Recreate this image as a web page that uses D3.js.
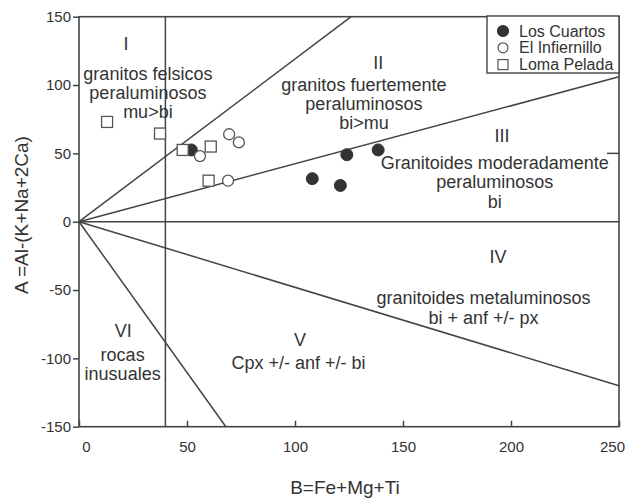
<!DOCTYPE html>
<html>
<head>
<meta charset="utf-8">
<script src="https://cdn.jsdelivr.net/npm/d3@7"></script>
<style>
  body { margin: 0; background: #fff; }
  text { font-family: "Liberation Sans", Arial, sans-serif; fill: #333; }
</style>
</head>
<body>
<script>
'use strict';

// data
var losCuartos = [[52, 52.5], [108, 31.5], [121, 26.5], [124, 49], [138.5, 52.5]];
var elInfiernillo = [[56, 48], [69.5, 64], [74, 58], [69, 30]];
var lomaPelada = [[13, 73], [37.5, 64.5], [48, 52.5], [61, 55], [60, 30]];

// field boundaries (Villaseca et al. style A-B diagram)
var boundaries = [
  [[0, 0], [126, 150]],
  [[0, 0], [250, 106]],
  [[0, 0], [250, 0]],
  [[0, 0], [250, -120]],
  [[0, 0], [68, -150]],
  [[40, -150], [40, 150]]
];

var xTicks = [0, 50, 100, 150, 200, 250];
var yTicks = [-150, -100, -50, 0, 50, 100, 150];

var regionNames = ['I', 'II', 'III', 'IV', 'V', 'VI'];
var regionTexts = [
  ['granitos felsicos', 'peraluminosos', 'mu>bi'],
  ['granitos fuertemente', 'peraluminosos', 'bi>mu'],
  ['Granitoides moderadamente', 'peraluminosos', 'bi'],
  ['granitoides metaluminosos', 'bi + anf +/- px'],
  ['Cpx +/- anf +/- bi'],
  ['rocas', 'inusuales']
];
var seriesNames = ['Los Cuartos', 'El Infiernillo', 'Loma Pelada'];

var W = 626, H = 500;
var x = d3.scaleLinear().domain([0, 250]).range([79, 619]);
var y = d3.scaleLinear().domain([-150, 150]).range([426.7, 16.7]);

var svg = d3.select('body').append('svg')
  .attr('width', W)
  .attr('height', H);

var ink = '#444';

// boundaries
svg.append('g').selectAll('line')
  .data(boundaries)
  .enter().append('line')
    .attr('x1', function(d) { return x(d[0][0]); })
    .attr('y1', function(d) { return y(d[0][1]); })
    .attr('x2', function(d) { return x(d[1][0]); })
    .attr('y2', function(d) { return y(d[1][1]); })
    .style('stroke', ink)
    .style('stroke-width', 1.5);

// frame
svg.append('rect')
  .attr('x', x(0)).attr('y', y(150))
  .attr('width', x(250) - x(0)).attr('height', y(-150) - y(150))
  .style('fill', 'none').style('stroke', ink).style('stroke-width', 1.6);

// axes
var yAxis = svg.append('g')
  .attr('transform', 'translate(' + x(0) + ',0)')
  .call(d3.axisLeft(y).tickValues(yTicks).tickSize(6).tickPadding(2)
    .tickFormat(function(d) { return String(d); }));
var xAxis = svg.append('g')
  .attr('transform', 'translate(0,' + y(-150) + ')')
  .call(d3.axisBottom(x).tickValues(xTicks).tickSize(-6).tickPadding(15)
    .tickFormat(function(d) { return String(d); }));

[yAxis, xAxis].forEach(function(a) {
  a.select('.domain').remove();
  a.selectAll('line').style('stroke', ink).style('stroke-width', 1.5);
  a.selectAll('text')
    .style('font-size', '15px')
    .style('font-family', '"Liberation Sans", Arial, sans-serif')
    .style('fill', '#333');
});
xAxis.selectAll('.tick').filter(function(d) { return d === 0; })
  .select('text').attr('dx', 7);
xAxis.selectAll('.tick').filter(function(d) { return d === 250; })
  .select('text').attr('dx', -7);

// small inward tick on the right side
svg.append('line')
  .attr('x1', x(250) - 12).attr('x2', x(250))
  .attr('y1', y(50)).attr('y2', y(50))
  .style('stroke', ink).style('stroke-width', 1.5);

// axis titles
svg.append('text')
  .attr('x', 345).attr('y', 494)
  .attr('text-anchor', 'middle')
  .style('font-size', '19px')
  .text('B=Fe+Mg+Ti');
svg.append('text')
  .attr('transform', 'translate(28,215) rotate(-90)')
  .attr('text-anchor', 'middle')
  .style('font-size', '19px')
  .text('A =Al-(K+Na+2Ca)');

// region labels, anchors in data units
var nameAnchors = [[21.8, 125.5], [138.5, 112], [195.8, 58], [194, -30], [102.3, -91], [20.5, -84]];
var textAnchors = [[31.9, 104], [131.9, 96], [192.5, 38.5], [187.3, -60.5], [101.6, -108], [20.2, -102]];
var lineStep = 19.3;

var labels = svg.append('g').style('font-size', '18px').attr('text-anchor', 'middle');
regionNames.forEach(function(name, i) {
  labels.append('text')
    .attr('x', x(nameAnchors[i][0]))
    .attr('y', y(nameAnchors[i][1]))
    .text(name);
  regionTexts[i].forEach(function(t, j) {
    labels.append('text')
      .attr('x', x(textAnchors[i][0]))
      .attr('y', y(textAnchors[i][1]) + j * lineStep)
      .text(t);
  });
});

// points
var mark = '#333';
svg.append('g').selectAll('circle')
  .data(losCuartos)
  .enter().append('circle')
    .attr('cx', function(d) { return x(d[0]); })
    .attr('cy', function(d) { return y(d[1]); })
    .attr('r', 6)
    .style('fill', mark).style('stroke', mark);

svg.append('g').selectAll('circle')
  .data(elInfiernillo)
  .enter().append('circle')
    .attr('cx', function(d) { return x(d[0]); })
    .attr('cy', function(d) { return y(d[1]); })
    .attr('r', 5.5)
    .style('fill', '#fff').style('stroke', '#555').style('stroke-width', 1.3);

svg.append('g').selectAll('rect')
  .data(lomaPelada)
  .enter().append('rect')
    .attr('x', function(d) { return x(d[0]) - 5.5; })
    .attr('y', function(d) { return y(d[1]) - 5.5; })
    .attr('width', 11).attr('height', 11)
    .style('fill', '#fff').style('stroke', '#555').style('stroke-width', 1.3);

// legend
var lg = svg.append('g').attr('transform', 'translate(487,16)');
lg.append('rect')
  .attr('width', x(250) - 487).attr('height', 57)
  .style('fill', '#fff').style('stroke', ink).style('stroke-width', 1.4);
var rows = lg.selectAll('g.row')
  .data(seriesNames)
  .enter().append('g')
    .attr('class', 'row')
    .attr('transform', function(d, i) { return 'translate(16,' + (15 + i * 16.8) + ')'; });
rows.append('text')
  .attr('x', 16).attr('y', 5.5)
  .style('font-size', '16px')
  .text(function(d) { return d; });
rows.each(function(d, i) {
  var g = d3.select(this);
  if (i === 2) {
    g.append('rect').attr('x', -5).attr('y', -5).attr('width', 10).attr('height', 10)
      .style('fill', '#fff').style('stroke', '#555').style('stroke-width', 1.2);
  } else {
    g.append('circle').attr('r', i === 0 ? 5.5 : 5)
      .style('fill', i === 0 ? mark : '#fff')
      .style('stroke', i === 0 ? mark : '#555').style('stroke-width', 1.2);
  }
});
</script>
</body>
</html>
